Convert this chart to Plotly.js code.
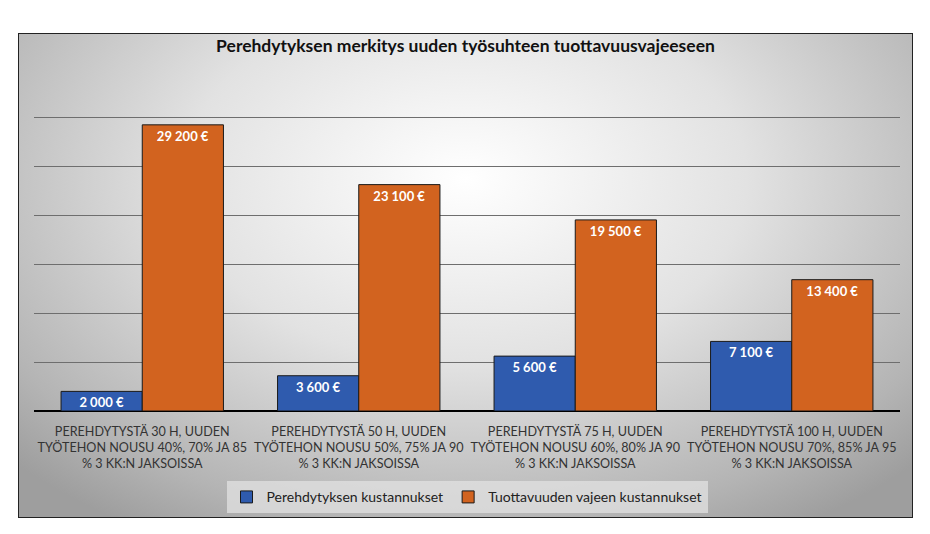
<!DOCTYPE html>
<html>
<head>
<meta charset="utf-8">
<script src="https://cdn.plot.ly/plotly-3.0.1.min.js"></script>
<style>
  html, body { margin: 0; padding: 0; background: #fff; width: 930px; height: 534px; overflow: hidden; }
  #frame {
    position: absolute; left: 18px; top: 33px; width: 893px; height: 483px;
    border: 1px solid #222;
    background: radial-gradient(ellipse 70% 85% at 50% 30%, #ffffff 0%, #e2e2e2 45%, #b4b4b4 85%, #9e9e9e 100%);
  }
  #chart { width: 893px; height: 483px; }
</style>
</head>
<body>
<div id="frame"><div id="chart"></div></div>
<script>
// x-akselin luokat (rivinvaihdot kuten alkuperäisessä)
const categories = [
  'PEREHDYTYSTÄ 30 H, UUDEN<br>TYÖTEHON NOUSU 40%, 70% JA 85<br>% 3 KK:N JAKSOISSA',
  'PEREHDYTYSTÄ 50 H, UUDEN<br>TYÖTEHON NOUSU 50%, 75% JA 90<br>% 3 KK:N JAKSOISSA',
  'PEREHDYTYSTÄ 75 H, UUDEN<br>TYÖTEHON NOUSU 60%, 80% JA 90<br>% 3 KK:N JAKSOISSA',
  'PEREHDYTYSTÄ 100 H, UUDEN<br>TYÖTEHON NOUSU 70%, 85% JA 95<br>% 3 KK:N JAKSOISSA'
];
const perehdytys = [2000, 3600, 5600, 7100];
const tuottavuusvaje = [29200, 23100, 19500, 13400];
const seriesNames = ['Perehdytyksen kustannukset', 'Tuottavuuden vajeen kustannukset'];

const labelFont = {family: 'Lato, sans-serif', size: 13, color: '#ffffff', weight: 'bold'};

const data = [
  {
    x: categories, y: perehdytys, type: 'bar', name: seriesNames[0],
    marker: {color: '#2f5bae', line: {color: '#1a1a1a', width: 1}},
    texttemplate: '%{y:,} €', textposition: 'inside', insidetextanchor: 'end',
    constraintext: 'none', cliponaxis: false,
    textangle: 0, textfont: labelFont, hoverinfo: 'y'
  },
  {
    x: categories, y: tuottavuusvaje, type: 'bar', name: seriesNames[1],
    marker: {color: '#d2631f', line: {color: '#1a1a1a', width: 1}},
    texttemplate: '%{y:,} €', textposition: 'inside', insidetextanchor: 'end',
    constraintext: 'none', cliponaxis: false,
    textangle: 0, textfont: labelFont, hoverinfo: 'y'
  }
];

const layout = {
  width: 893, height: 483,
  margin: {l: 15, r: 12, t: 34, b: 106, autoexpand: false},
  paper_bgcolor: 'rgba(0,0,0,0)',
  plot_bgcolor: 'rgba(0,0,0,0)',
  separators: ', ',
  font: {family: 'Lato, sans-serif', color: '#404040'},
  title: {
    text: '<b>Perehdytyksen merkitys uuden työsuhteen tuottavuusvajeeseen</b>',
    font: {size: 17.5, color: '#111'},
    x: 0.5, xanchor: 'center', y: 0.975, yanchor: 'middle'
  },
  barmode: 'group', bargap: 0.25, bargroupgap: 0,
  xaxis: {
    type: 'category', tickfont: {size: 12.6, color: '#333'},
    tickangle: 0, automargin: false, ticklabelstandoff: 11,
    ticks: '', showgrid: false, showline: false
  },
  yaxis: {
    range: [0, 35000], dtick: 5000, showticklabels: false,
    gridcolor: '#6e6e6e', gridwidth: 1, automargin: false,
    zeroline: true, zerolinecolor: '#000', zerolinewidth: 2
  },
  showlegend: true,
  legend: {
    orientation: 'h', x: 0.5, xanchor: 'center', y: -0.205, yanchor: 'top',
    bgcolor: 'rgba(225,225,225,0.75)', font: {size: 14, color: '#222'},
    itemwidth: 30
  }
};

Plotly.newPlot('chart', data, layout, {displayModeBar: false, staticPlot: true});
</script>
</body>
</html>
